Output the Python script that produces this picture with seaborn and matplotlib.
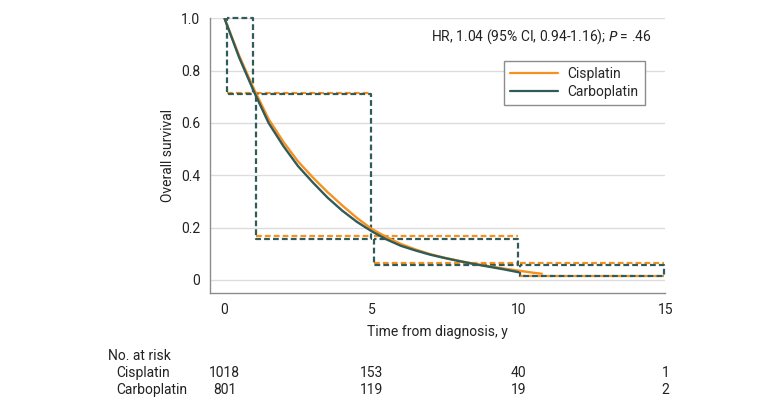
import numpy as np
import pandas as pd
import matplotlib
matplotlib.use("Agg")
import matplotlib.pyplot as plt
import seaborn as sns

# fitted survival curves
cis_t = [0, 0.5, 1.0, 1.5, 2.0, 2.5, 3.0, 3.5, 4.0, 4.5, 5.0, 5.5, 6.0, 6.5,
         7.0, 7.5, 8.0, 8.5, 9.0, 9.5, 10.0, 10.5, 10.8]
cis_s = [1.0, 0.857, 0.73, 0.615, 0.528, 0.453, 0.392, 0.336, 0.285, 0.237, 0.195,
         0.164, 0.137, 0.116, 0.098, 0.084, 0.072, 0.061, 0.052, 0.043, 0.035,
         0.027, 0.023]
carbo_t = [0, 0.5, 1.0, 1.5, 2.0, 2.5, 3.0, 3.5, 4.0, 4.5, 5.0, 5.5, 6.0, 6.5,
           7.0, 7.5, 8.0, 8.5, 9.0, 9.5, 10.0]
carbo_s = [1.0, 0.85, 0.72, 0.60, 0.512, 0.435, 0.373, 0.315, 0.265, 0.222, 0.186,
           0.155, 0.13, 0.112, 0.096, 0.083, 0.071, 0.060, 0.050, 0.040, 0.029]

# piecewise boxes (dashed)
box_t = [0, 1, 5, 10, 15]
cis_box = [1.0, 0.716, 0.168, 0.064, 0.015]
carbo_box = [1.0, 0.71, 0.157, 0.057, 0.015]

risk_t = [0, 5, 10, 15]
risk_cis = [1018, 153, 40, 1]
risk_carbo = [801, 119, 19, 2]

orange = "#F7901E"
green = "#2F5B58"

sns.set_style("white")
plt.rcParams["font.family"] = ["Roboto", "DejaVu Sans"]
FS = 10

fig = plt.figure(figsize=(7.8, 4.09), dpi=100)
ax = fig.add_axes([0.269, 0.284, 0.584, 0.671])
dash = (0, (2.6, 1.4))

# cisplatin: only the horizontal edges show from under the carboplatin boxes
for i in range(len(box_t) - 1):
    x0, x1 = box_t[i] + 0.07, box_t[i + 1] - 0.03
    for y in (cis_box[i], cis_box[i + 1]):
        if y < 1.0:
            ax.plot([x0, x1], [y, y], color=orange, lw=1.6, ls=dash,
                    clip_on=False, zorder=3)

for i in range(len(box_t) - 1):
    x0, x1 = box_t[i] + 0.07, box_t[i + 1] - 0.03
    y0, y1 = carbo_box[i + 1], carbo_box[i]
    ax.plot([x0, x1, x1, x0, x0], [y1, y1, y0, y0, y1], color=green,
            lw=1.6, ls=(1.5, (2.6, 1.4)), clip_on=False, zorder=3)

curves = pd.concat([
    pd.DataFrame({"t": cis_t, "s": cis_s, "grp": "Cisplatin"}),
    pd.DataFrame({"t": carbo_t, "s": carbo_s, "grp": "Carboplatin"}),
])
sns.lineplot(data=curves, x="t", y="s", hue="grp",
             palette={"Cisplatin": orange, "Carboplatin": green},
             estimator=None, sort=False, lw=1.7, ax=ax, zorder=4)

ax.set_xlim(-0.5, 15)
ax.set_ylim(-0.05, 1.0)
ax.set_xticks(risk_t)
ax.set_yticks([0, 0.2, 0.4, 0.6, 0.8, 1.0])
ax.set_yticklabels(["0", "0.2", "0.4", "0.6", "0.8", "1.0"])
ax.yaxis.grid(True, color="#dcdcdc", lw=1)
ax.set_axisbelow(True)
for sp in ["top", "right"]:
    ax.spines[sp].set_visible(False)
for sp in ["left", "bottom"]:
    ax.spines[sp].set_color("#8c8c8c")
    ax.spines[sp].set_linewidth(1)
ax.tick_params(axis="both", direction="out", length=4, width=1,
               color="#8c8c8c", labelsize=FS, labelcolor="#222222", pad=3)
ax.set_xlabel("Time from diagnosis, y", fontsize=FS, color="#222222", labelpad=6)
ax.set_ylabel("Overall survival", fontsize=FS, color="#222222", labelpad=4)

ax.text(0.97, 0.935, r"HR, 1.04 (95% CI, 0.94-1.16); $\it{P}$ = .46",
        transform=ax.transAxes, ha="right", va="center", fontsize=FS,
        color="#222222")

leg = ax.legend(loc="upper right", bbox_to_anchor=(0.97, 0.87), fontsize=FS,
                frameon=True, fancybox=False, framealpha=1, edgecolor="#8c8c8c",
                handlelength=3.4, borderpad=0.45, labelspacing=0.25,
                handletextpad=0.7)
leg.get_frame().set_linewidth(1)
for h in leg.get_lines():
    h.set_linewidth(1.6)

# risk table
fig.text(108 / 780, 1 - 356 / 409, "No. at risk", fontsize=FS, va="center",
         color="#222222")
rows = [("Cisplatin", risk_cis, 373), ("Carboplatin", risk_carbo, 390)]
for name, vals, ypx in rows:
    fig.text(116 / 780, 1 - ypx / 409, name, fontsize=FS, va="center",
             color="#222222")
    for t, v in zip(risk_t, vals):
        xf = fig.transFigure.inverted().transform(ax.transData.transform((t, 0)))[0]
        fig.text(xf, 1 - ypx / 409, str(v), fontsize=FS, ha="center",
                 va="center", color="#222222")

fig.savefig("out.png", dpi=100)
